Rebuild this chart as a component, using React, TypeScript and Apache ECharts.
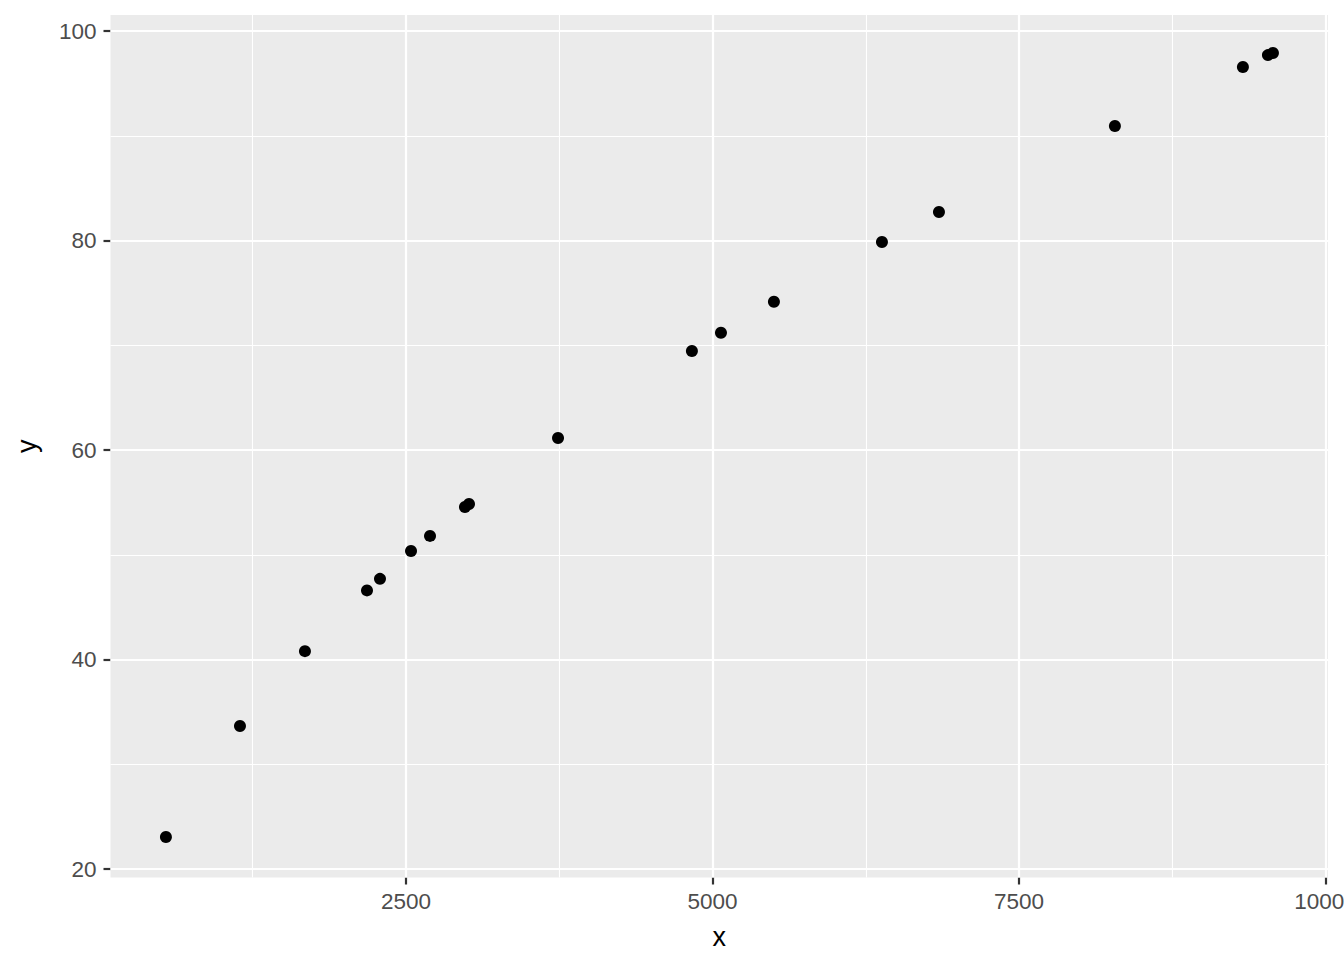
import React, { useEffect, useRef } from "react";
import * as echarts from "echarts";

const xValues = [542, 1146, 1676, 2182, 2288, 2541, 2696, 2981, 3014, 3740, 4832, 5069, 5501, 6382, 6847, 8282, 9326, 9530, 9571];
const yValues = [23.05, 33.65, 40.8, 46.6, 47.7, 50.36, 51.8, 54.56, 54.85, 61.15, 69.45, 71.2, 74.15, 79.86, 82.72, 90.93, 96.56, 97.7, 97.9];

const xMajorTicks = [2500, 5000, 7500, 10000];
const xMinorTicks = [1250, 3750, 6250, 8750];
const yMajorTicks = [20, 40, 60, 80, 100];
const yMinorTicks = [30, 50, 70, 90];

const X_MIN = 90;
const X_MAX = 10020;
const Y_MIN = 19.19;
const Y_MAX = 101.53;

export default function App() {
  const ref = useRef<HTMLDivElement>(null);
  useEffect(() => {
    document.body.style.margin = "0";
    const chart = echarts.init(ref.current!, null, { renderer: "svg" });
    const font = "'Liberation Sans', Arial, sans-serif";
    const gridLines = [
      ...xMinorTicks.map((v) => ({ xAxis: v, lineStyle: { width: 1.1 } })),
      ...yMinorTicks.map((v) => ({ yAxis: v, lineStyle: { width: 1.1 } })),
      ...xMajorTicks.map((v) => ({ xAxis: v, lineStyle: { width: 2.2 } })),
      ...yMajorTicks.map((v) => ({ yAxis: v, lineStyle: { width: 2.2 } })),
    ];
    chart.setOption({
      animation: false,
      grid: {
        show: true,
        left: 110.5,
        top: 15,
        right: 16,
        bottom: 82.5,
        containLabel: false,
        outerBoundsMode: "none",
        backgroundColor: "#EBEBEB",
        borderWidth: 0,
      },
      xAxis: {
        type: "value",
        min: X_MIN,
        max: X_MAX,
        name: "x",
        nameLocation: "middle",
        nameGap: 46,
        nameTextStyle: { color: "#000", fontSize: 27, fontFamily: font },
        axisLine: { show: false },
        splitLine: { show: false },
        axisTick: {
          show: true,
          length: 7,
          customValues: xMajorTicks,
          lineStyle: { color: "#333333", width: 2.2 },
        },
        axisLabel: {
          customValues: xMajorTicks,
          formatter: (v: number) => String(v),
          color: "#4D4D4D",
          fontSize: 22.5,
          fontFamily: font,
          margin: 12,
          showMaxLabel: true,
          hideOverlap: false,
        },
      },
      yAxis: {
        type: "value",
        min: Y_MIN,
        max: Y_MAX,
        name: "y",
        nameLocation: "middle",
        nameGap: 70,
        nameRotate: 90,
        nameTextStyle: { color: "#000", fontSize: 27, fontFamily: font },
        axisLine: { show: false },
        splitLine: { show: false },
        axisTick: {
          show: true,
          length: 7,
          customValues: yMajorTicks,
          lineStyle: { color: "#333333", width: 2.2 },
        },
        axisLabel: {
          customValues: yMajorTicks,
          formatter: (v: number) => String(v),
          color: "#4D4D4D",
          fontSize: 22.5,
          fontFamily: font,
          margin: 14,
        },
      },
      series: [
        {
          type: "line",
          data: [],
          silent: true,
          z: 1,
          markLine: {
            silent: true,
            symbol: "none",
            label: { show: false },
            lineStyle: { color: "#FFFFFF", type: "solid" },
            emphasis: { disabled: true },
            data: gridLines,
          },
        },
        {
          type: "scatter",
          z: 5,
          symbol: "circle",
          symbolSize: 12,
          itemStyle: { color: "#000000", opacity: 1 },
          data: xValues.map((x, i) => [x, yValues[i]]),
        },
      ],
    });
    return () => chart.dispose();
  }, []);
  return <div ref={ref} style={{ width: 1344, height: 960 }} />;
}
